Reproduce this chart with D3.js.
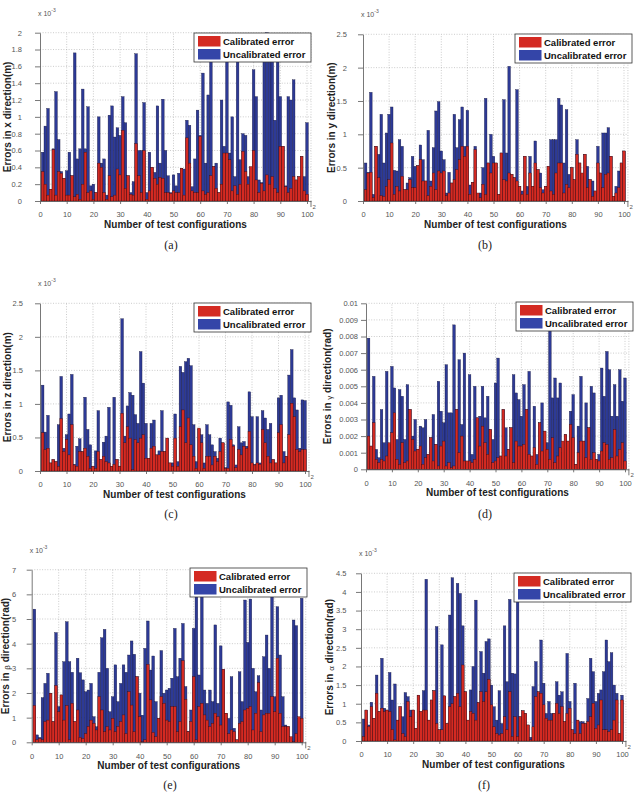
<!DOCTYPE html>
<html>
<head>
<meta charset="utf-8">
<script src="https://cdn.jsdelivr.net/npm/d3@7"></script>
<style>
  body { margin: 0; background: #fff; }
  svg { display: block; }
</style>
</head>
<body>
<div id="chart"></div>
<script>
// test configuration numbers 1..100
const CONFIGS = d3.range(1, 101);
const X_TICKS = [0, 10, 20, 30, 40, 50, 60, 70, 80, 90, 100];

// (a) x direction, x 10^-3 m
const A_UNCAL = [0.58,0.89,1.10,0.14,0.62,1.30,0.73,0.35,0.27,0.36, 0.58,0.30,1.76,0.50,0.62,1.33,0.62,1.12,0.18,0.20,
  0.10,1.00,0.45,0.50,0.07,1.02,1.13,0.76,0.87,0.78, 1.24,0.93,0.30,0.10,0.23,1.75,0.60,0.60,1.17,0.10,
  0.58,0.40,0.34,1.13,0.45,1.21,0.60,0.30,0.10,0.31, 0.18,0.33,0.39,0.38,0.96,0.90,0.17,0.50,1.08,0.78,
  1.52,0.45,1.26,1.95,0.41,0.45,0.10,1.20,0.65,1.98, 0.57,1.00,0.29,1.70,0.49,0.80,0.78,0.29,0.40,1.56,
  1.24,0.25,0.22,1.90,2.00,1.95,1.75,0.96,1.80,1.24, 0.65,0.18,1.24,1.20,1.44,0.25,0.29,0.53,0.29,0.93];
const A_CAL = [0.35,0.20,0.07,0.14,0.61,0.07,0.35,0.33,0.27,0.07, 0.07,0.30,0.05,0.08,0.02,0.20,0.58,0.10,0.12,0.02,
  0.10,0.45,0.40,0.10,0.02,0.30,0.05,0.07,0.38,0.31, 0.84,0.15,0.30,0.08,0.07,0.68,0.30,0.10,0.60,0.02,
  0.12,0.40,0.27,0.20,0.28,0.27,0.10,0.10,0.09,0.12, 0.10,0.10,0.39,0.07,0.75,0.45,0.12,0.10,0.10,0.77,
  0.12,0.08,0.10,0.30,0.41,0.15,0.10,0.20,0.57,0.57, 0.49,0.12,0.18,0.08,0.20,0.59,0.35,0.20,0.41,0.60,
  0.25,0.10,0.21,0.12,0.31,0.20,0.29,0.15,0.10,0.65, 0.65,0.17,0.10,0.15,0.29,0.25,0.29,0.53,0.12,0.08];

// (b) y direction, x 10^-3 m
const B_UNCAL = [0.57,0.43,1.63,0.10,0.82,0.70,1.30,0.57,1.02,1.30, 1.41,0.46,0.45,0.92,0.82,0.17,0.27,0.35,0.67,0.52,
  0.53,0.84,0.62,0.30,1.06,0.30,0.80,1.35,1.49,0.75, 0.62,0.12,0.43,0.27,1.30,0.80,1.22,1.41,0.82,1.36,
  0.24,0.28,0.82,0.10,0.12,0.50,1.54,0.57,1.00,0.67, 0.57,0.10,0.72,1.52,0.72,2.02,0.40,0.35,1.67,0.22,
  0.15,0.67,0.22,0.67,0.22,0.90,0.47,0.42,0.17,0.22, 0.52,0.92,0.92,0.92,1.54,1.44,0.57,1.37,0.40,0.50,
  0.32,0.92,0.57,0.37,0.70,0.52,0.32,0.30,0.15,0.82, 0.42,1.02,1.02,1.10,0.67,0.07,0.22,0.45,0.57,0.75];
const B_CAL = [0.17,0.42,0.43,0.05,0.82,0.35,0.08,0.07,0.22,0.32, 0.87,0.10,0.22,0.15,0.37,0.17,0.17,0.32,0.20,0.20,
  0.53,0.62,0.30,0.30,0.08,0.22,0.42,0.17,0.45,0.42, 0.45,0.08,0.12,0.27,0.32,0.47,0.62,0.82,0.67,0.82,
  0.10,0.28,0.77,0.12,0.05,0.25,0.10,0.57,0.42,0.57, 0.57,0.10,0.72,0.32,0.30,0.42,0.40,0.35,0.30,0.22,
  0.10,0.67,0.10,0.42,0.22,0.57,0.47,0.20,0.12,0.22, 0.52,0.15,0.10,0.42,0.57,0.57,0.12,0.25,0.20,0.50,
  0.32,0.70,0.57,0.42,0.70,0.20,0.32,0.07,0.15,0.57, 0.42,0.20,0.40,0.42,0.67,0.07,0.12,0.20,0.57,0.75];

// (c) z direction, x 10^-3 m
const C_UNCAL = [1.28,0.58,0.83,0.12,0.17,0.14,0.69,1.41,0.34,0.54, 0.85,1.44,0.10,0.37,0.48,0.29,1.10,0.62,0.39,0.07,
  0.30,0.90,0.17,0.43,0.52,0.95,0.07,1.10,0.17,0.07, 2.27,0.52,0.97,1.17,1.13,0.84,0.71,1.78,1.31,0.71,
  0.19,0.71,0.76,0.24,0.30,0.90,0.29,0.49,0.12,0.12, 0.85,0.14,1.56,1.47,1.63,1.68,1.57,0.69,0.14,0.62,
  0.54,0.12,0.69,0.54,0.39,0.29,0.19,0.49,0.42,0.05, 1.03,0.98,0.39,0.09,0.66,0.42,0.44,0.37,1.18,0.81,
  0.10,0.81,0.12,0.90,0.79,0.62,0.71,0.17,0.12,1.09, 1.13,0.29,0.22,1.43,1.81,1.09,0.91,0.34,1.06,1.05];
const C_CAL = [0.57,0.32,0.34,0.12,0.17,0.14,0.07,0.78,0.29,0.47, 0.24,0.69,0.09,0.07,0.29,0.29,0.34,0.22,0.04,0.07,
  0.04,0.29,0.17,0.22,0.14,0.12,0.07,0.10,0.17,0.07, 0.86,0.42,0.66,0.49,0.02,0.47,0.42,0.49,0.54,0.19,
  0.19,0.34,0.37,0.24,0.24,0.29,0.29,0.49,0.12,0.07, 0.49,0.07,0.66,0.91,0.42,0.79,0.39,0.22,0.04,0.64,
  0.42,0.04,0.22,0.22,0.09,0.22,0.14,0.29,0.42,0.04, 0.04,0.47,0.37,0.05,0.32,0.24,0.37,0.34,0.59,0.12,
  0.09,0.12,0.10,0.62,0.42,0.22,0.12,0.17,0.12,0.57, 0.69,0.12,0.22,0.54,1.01,0.81,0.32,0.29,0.32,0.32];

// (d) gamma direction, rad
const D_UNCAL = [0.0079,0.0014,0.0056,0.0012,0.0007,0.0036,0.0016,0.0059,0.0015,0.0062, 0.0049,0.0018,0.0048,0.0044,0.0018,0.0051,0.0036,0.0020,0.0030,0.0012,
  0.0026,0.0025,0.0030,0.0009,0.0019,0.0033,0.0015,0.0053,0.0035,0.0028, 0.0063,0.0034,0.0034,0.0087,0.0036,0.0066,0.0027,0.0070,0.0005,0.0057,
  0.0009,0.0050,0.0031,0.0032,0.0050,0.0031,0.0044,0.0024,0.0018,0.0052, 0.0067,0.0008,0.0036,0.0025,0.0012,0.0025,0.0057,0.0046,0.0042,0.0032,
  0.0051,0.0036,0.0059,0.0008,0.0038,0.0009,0.0028,0.0040,0.0023,0.0016, 0.0084,0.0043,0.0055,0.0043,0.0052,0.0010,0.0021,0.0017,0.0035,0.0045,
  0.0003,0.0026,0.0056,0.0017,0.0040,0.0025,0.0050,0.0046,0.0006,0.0009, 0.0061,0.0044,0.0071,0.0060,0.0032,0.0051,0.0032,0.0060,0.0041,0.0055];
const D_CAL = [0.0020,0.0014,0.0028,0.0006,0.0004,0.0006,0.0005,0.0008,0.0016,0.0022, 0.0034,0.0006,0.0003,0.0016,0.0004,0.0005,0.0036,0.0018,0.0011,0.0012,
  0.0014,0.0003,0.0007,0.0009,0.0019,0.0005,0.0015,0.0002,0.0014,0.0017, 0.0002,0.0004,0.0001,0.0002,0.0036,0.0010,0.0020,0.0005,0.0005,0.0005,
  0.0004,0.0006,0.0031,0.0014,0.0026,0.0016,0.0009,0.0024,0.0004,0.0005, 0.0007,0.0008,0.0036,0.0008,0.0012,0.0025,0.0004,0.0017,0.0014,0.0014,
  0.0015,0.0036,0.0009,0.0008,0.0013,0.0003,0.0028,0.0011,0.0023,0.0012, 0.0006,0.0019,0.0004,0.0008,0.0013,0.0017,0.0021,0.0017,0.0027,0.0019,
  0.0003,0.0010,0.0017,0.0017,0.0007,0.0025,0.0006,0.0010,0.0006,0.0005, 0.0011,0.0016,0.0015,0.0006,0.0007,0.0024,0.0008,0.0012,0.0016,0.0005];

// (e) beta direction, x 10^-3 rad
const E_UNCAL = [5.40,0.30,0.20,1.81,2.39,2.80,1.99,0.84,4.45,1.45, 1.92,3.27,4.89,3.27,2.84,0.84,3.41,2.82,2.53,2.05,
  2.12,2.39,1.04,0.63,2.84,4.24,4.58,3.00,1.24,1.85, 3.14,1.65,2.39,3.14,2.84,3.54,4.11,3.57,2.66,1.99,
  1.10,3.81,4.92,2.93,3.50,1.65,0.97,3.72,1.99,2.12, 2.19,2.60,4.62,2.66,3.41,4.82,2.26,0.45,1.31,4.62,
  6.00,2.73,5.90,2.12,1.58,2.12,1.65,4.76,1.58,3.91, 2.96,1.18,0.97,2.66,0.57,0.10,2.86,1.65,5.77,4.05,
  5.81,3.00,2.05,2.70,1.31,3.47,4.35,3.00,5.90,1.85, 5.50,3.54,1.85,0.70,0.64,0.20,4.96,4.73,0.97,5.84];
const E_CAL = [1.49,0.10,0.15,0.10,0.84,0.90,1.99,0.84,2.30,1.24, 1.92,0.90,1.49,0.10,1.58,0.84,1.31,0.20,0.15,0.35,
  0.64,0.90,0.77,0.50,1.85,1.31,0.43,0.64,0.50,0.97, 0.43,0.64,0.84,1.11,0.35,2.05,1.51,0.43,2.66,1.04,
  0.02,0.10,3.16,1.72,0.40,0.23,0.97,1.85,1.58,0.90, 0.84,1.45,1.45,0.43,0.84,3.31,1.74,0.43,0.84,2.66,
  0.10,1.45,1.58,1.11,0.90,0.64,0.77,1.18,1.04,0.70, 2.96,1.18,0.35,0.50,0.43,0.10,0.77,0.84,1.31,1.38,
  1.45,0.50,1.18,2.42,0.43,1.11,1.18,1.18,1.85,1.24, 3.41,1.18,0.64,0.64,0.64,0.23,0.02,0.35,1.04,0.97];

// (f) alpha direction, x 10^-3 rad
const F_UNCAL = [0.59,0.83,0.43,1.04,0.61,1.77,0.79,2.22,0.88,0.83, 1.84,1.10,1.53,0.56,0.92,0.65,1.30,1.19,0.83,0.83,
  0.34,1.23,0.79,1.35,4.34,0.56,1.10,1.35,3.07,0.30, 2.58,1.21,0.47,3.38,4.38,1.19,4.23,3.96,3.09,1.32,
  0.56,1.37,2.00,3.78,1.03,2.40,1.82,2.67,2.74,1.50, 0.92,0.56,1.35,0.47,3.09,1.59,3.80,1.82,1.80,3.78,
  0.65,0.81,0.74,0.43,0.10,1.46,2.13,1.32,2.71,1.55, 0.74,1.06,0.74,0.74,1.59,1.23,1.32,0.52,2.35,1.06,
  0.30,1.55,0.56,0.52,0.52,0.47,1.14,2.22,1.86,1.06, 1.28,1.37,1.86,2.71,2.13,2.37,1.50,1.28,0.20,1.23];
const F_CAL = [0.12,0.83,0.39,0.92,0.61,1.28,0.79,0.88,0.79,0.83, 0.79,0.31,0.03,0.56,0.92,0.20,0.12,1.06,0.65,0.83,
  0.34,1.23,0.79,0.83,0.83,0.56,1.10,1.35,0.47,0.30, 0.30,1.21,0.47,0.92,1.00,1.19,1.28,0.92,2.04,1.32,
  0.56,0.79,0.74,0.56,1.03,1.32,1.06,1.32,1.65,0.97, 0.38,0.20,0.16,0.20,0.65,0.30,1.32,0.12,0.65,0.12,
  0.65,0.81,0.74,0.43,0.03,0.38,1.19,1.32,1.28,0.97, 0.61,0.56,0.56,0.74,1.01,0.74,0.92,0.52,0.74,0.88,
  0.30,0.20,0.56,0.20,0.47,0.47,0.52,0.65,1.01,0.34, 0.43,1.10,0.30,0.30,0.25,0.30,0.56,1.10,0.20,1.10];

const Y_TICKS_A = [0, 0.2, 0.4, 0.6, 0.8, 1, 1.2, 1.4, 1.6, 1.8, 2];
const Y_TICKS_BC = [0, 0.5, 1, 1.5, 2, 2.5];
const Y_TICKS_D = [0, 0.001, 0.002, 0.003, 0.004, 0.005, 0.006, 0.007, 0.008, 0.009, 0.01];
const Y_TICKS_E = [0, 1, 2, 3, 4, 5, 6, 7];
const Y_TICKS_F = [0, 0.5, 1, 1.5, 2, 2.5, 3, 3.5, 4, 4.5];

const SERIES_NAMES = ["Calibrated error", "Uncalibrated error"];

const FONT = "Arial, 'Liberation Sans', Helvetica, sans-serif";
const BLUE = "#2d3a96";
const RED = "#d42a22";

const W = 639, H = 792;

const svg = d3.select("#chart").append("svg")
    .attr("width", W)
    .attr("height", H);

const panels = [
  { cal: A_CAL, uncal: A_UNCAL, yMax: 2, ticks: Y_TICKS_A, x0: 40, x100: 307, y0: 201, yTop: 32.7, pad: 13,
    exp: "-3", dir: "x", unit: "(m)", greek: false, labX: 7.5, cap: "(a)", capX: 171, capY: 249, legX: 194, legY: 33 },
  { cal: B_CAL, uncal: B_UNCAL, yMax: 2.5, ticks: Y_TICKS_BC, x0: 363, x100: 624, y0: 201, yTop: 34.3, pad: 11,
    exp: "-3", dir: "y", unit: "(m)", greek: false, labX: 331, cap: "(b)", capX: 485, capY: 249, legX: 515, legY: 34 },
  { cal: C_CAL, uncal: C_UNCAL, yMax: 2.5, ticks: Y_TICKS_BC, x0: 40, x100: 305, y0: 471, yTop: 303.3, pad: 12,
    exp: "-3", dir: "z", unit: "(m)", greek: false, labX: 7.5, cap: "(c)", capX: 171, capY: 518, legX: 194, legY: 303 },
  { cal: D_CAL, uncal: D_UNCAL, yMax: 0.01, ticks: Y_TICKS_D, x0: 366, x100: 625, y0: 469.3, yTop: 303.3, pad: 3,
    exp: null, dir: "\u03b3", unit: "(rad)", greek: true, labX: 327, cap: "(d)", capX: 485, capY: 518, legX: 516, legY: 302 },
  { cal: E_CAL, uncal: E_UNCAL, yMax: 7, ticks: Y_TICKS_E, x0: 31.7, x100: 301.7, y0: 742.3, yTop: 569.7, pad: 10.5,
    exp: "-3", dir: "\u03b2", unit: "(rad)", greek: true, labX: 5, cap: "(e)", capX: 170, capY: 789, legX: 190, legY: 568 },
  { cal: F_CAL, uncal: F_UNCAL, yMax: 4.5, ticks: Y_TICKS_F, x0: 361, x100: 622, y0: 741, yTop: 573.3, pad: 9.5,
    exp: "-3", dir: "\u03b1", unit: "(rad)", greek: true, labX: 329, cap: "(f)", capX: 484, capY: 789, legX: 514, legY: 573 }
];

function drawPanel(p) {
  const g = svg.append("g");
  const xEnd = p.x0 + (p.x100 - p.x0) * 1.015;

  const x = d3.scaleLinear()
      .domain([0, 101.5])
      .range([p.x0, xEnd]);

  const y = d3.scaleLinear()
      .domain([0, p.yMax])
      .range([p.y0, p.yTop]);

  // dotted grid
  g.selectAll(".gx")
    .data(X_TICKS.slice(1).concat([101.5]))
    .enter().append("line")
      .attr("x1", d => x(d)).attr("x2", d => x(d))
      .attr("y1", p.y0).attr("y2", p.yTop)
      .attr("stroke", "#aaa")
      .attr("stroke-width", 0.6)
      .attr("stroke-dasharray", "1,1.6");

  g.selectAll(".gy")
    .data(p.ticks.slice(1))
    .enter().append("line")
      .attr("x1", p.x0).attr("x2", xEnd)
      .attr("y1", d => y(d)).attr("y2", d => y(d))
      .attr("stroke", "#aaa")
      .attr("stroke-width", 0.6)
      .attr("stroke-dasharray", "1,1.6");

  const bw = x(1) - x(0);

  // uncalibrated behind
  g.selectAll(".ub")
    .data(p.uncal)
    .enter().append("rect")
      .attr("x", (d, i) => x(CONFIGS[i]) - bw / 2)
      .attr("y", d => y(Math.min(d, p.yMax)))
      .attr("width", bw)
      .attr("height", d => p.y0 - y(Math.min(d, p.yMax)))
      .attr("fill", BLUE)
      .attr("stroke", "#15153a")
      .attr("stroke-width", 0.35);

  // calibrated in front
  g.selectAll(".cb")
    .data(p.cal)
    .enter().append("rect")
      .attr("x", (d, i) => x(CONFIGS[i]) - bw / 2)
      .attr("y", d => y(Math.min(d, p.yMax)))
      .attr("width", bw)
      .attr("height", d => p.y0 - y(Math.min(d, p.yMax)))
      .attr("fill", RED)
      .attr("stroke", "#3a0a0a")
      .attr("stroke-width", 0.35);

  // axes
  const fmt = p.yMax === 0.01 ? (d => d === 0 ? "0" : d3.format(".3~f")(d)) : (d => d3.format("~g")(d));

  const yAxis = g.append("g")
      .attr("transform", `translate(${p.x0},0)`)
      .call(d3.axisLeft(y).tickValues(p.ticks).tickFormat(fmt).tickSize(5).tickSizeOuter(0).tickPadding(p.pad));

  const xAxis = g.append("g")
      .attr("transform", `translate(0,${p.y0})`)
      .call(d3.axisBottom(x).tickValues(X_TICKS).tickFormat(d3.format("d")).tickSize(3).tickSizeOuter(0).tickPadding(8));

  [yAxis, xAxis].forEach(a => {
    a.selectAll("path, line").attr("stroke", "#555").attr("stroke-width", 0.8);
    a.selectAll("text")
        .attr("fill", "#555")
        .style("font-family", FONT)
        .style("font-size", "7.5px");
  });

  // small mark at the end of the x axis
  g.append("line")
      .attr("x1", xEnd).attr("x2", xEnd)
      .attr("y1", p.y0).attr("y2", p.y0 + 6)
      .attr("stroke", "#555").attr("stroke-width", 0.8);
  g.append("text")
      .attr("x", xEnd + 1.5).attr("y", p.y0 + 8)
      .attr("fill", "#555")
      .style("font-family", FONT).style("font-size", "6px")
      .text("2");

  // exponent label
  if (p.exp) {
    const t = g.append("text")
        .attr("x", p.x0 - 2)
        .attr("y", p.yTop - 17)
        .attr("fill", "#555")
        .style("font-family", FONT)
        .style("font-size", "7px");
    t.append("tspan").text("x 10");
    t.append("tspan").attr("dy", -4).style("font-size", "5px").text(p.exp);
  }

  // y label
  const yl = g.append("text")
      .attr("transform", `translate(${p.labX},${(p.y0 + p.yTop) / 2}) rotate(-90)`)
      .attr("text-anchor", "middle")
      .attr("dy", "0.35em")
      .attr("fill", "#222")
      .style("font-family", FONT)
      .style("font-size", "10px")
      .style("font-weight", "bold");
  yl.append("tspan").text("Errors in ");
  if (p.greek) {
    yl.append("tspan").style("font-size", "8px").style("font-weight", "normal").attr("dy", 1.5).text(p.dir);
    yl.append("tspan").attr("dy", -1.5).text(" direction" + p.unit);
  } else {
    yl.append("tspan").text(p.dir + " direction" + p.unit);
  }

  // x label
  g.append("text")
      .attr("x", (p.x0 + xEnd) / 2)
      .attr("y", p.y0 + 27)
      .attr("text-anchor", "middle")
      .attr("fill", "#222")
      .style("font-family", FONT)
      .style("font-size", "10px")
      .style("font-weight", "bold")
      .text("Number of test configurations");

  // legend
  const leg = g.append("g").attr("transform", `translate(${p.legX},${p.legY})`);
  leg.append("rect")
      .attr("width", 117).attr("height", 29)
      .attr("fill", "#fff").attr("stroke", "#333").attr("stroke-width", 0.8);
  [RED, "#3445a8"].forEach((c, i) => {
    leg.append("rect")
        .attr("x", 4).attr("y", 3 + i * 13)
        .attr("width", 22.5).attr("height", 10.5)
        .attr("fill", c);
    leg.append("text")
        .attr("x", 29).attr("y", 11.5 + i * 13.3)
        .attr("fill", "#111")
        .style("font-family", FONT)
        .style("font-size", "9.5px")
        .style("font-weight", "bold")
        .text(SERIES_NAMES[i]);
  });

  // caption
  g.append("text")
      .attr("x", p.capX)
      .attr("y", p.capY)
      .attr("text-anchor", "middle")
      .attr("fill", "#222")
      .style("font-family", "'Liberation Serif', 'Times New Roman', serif")
      .style("font-size", "12px")
      .text(p.cap);
}

panels.forEach(drawPanel);
</script>
</body>
</html>
